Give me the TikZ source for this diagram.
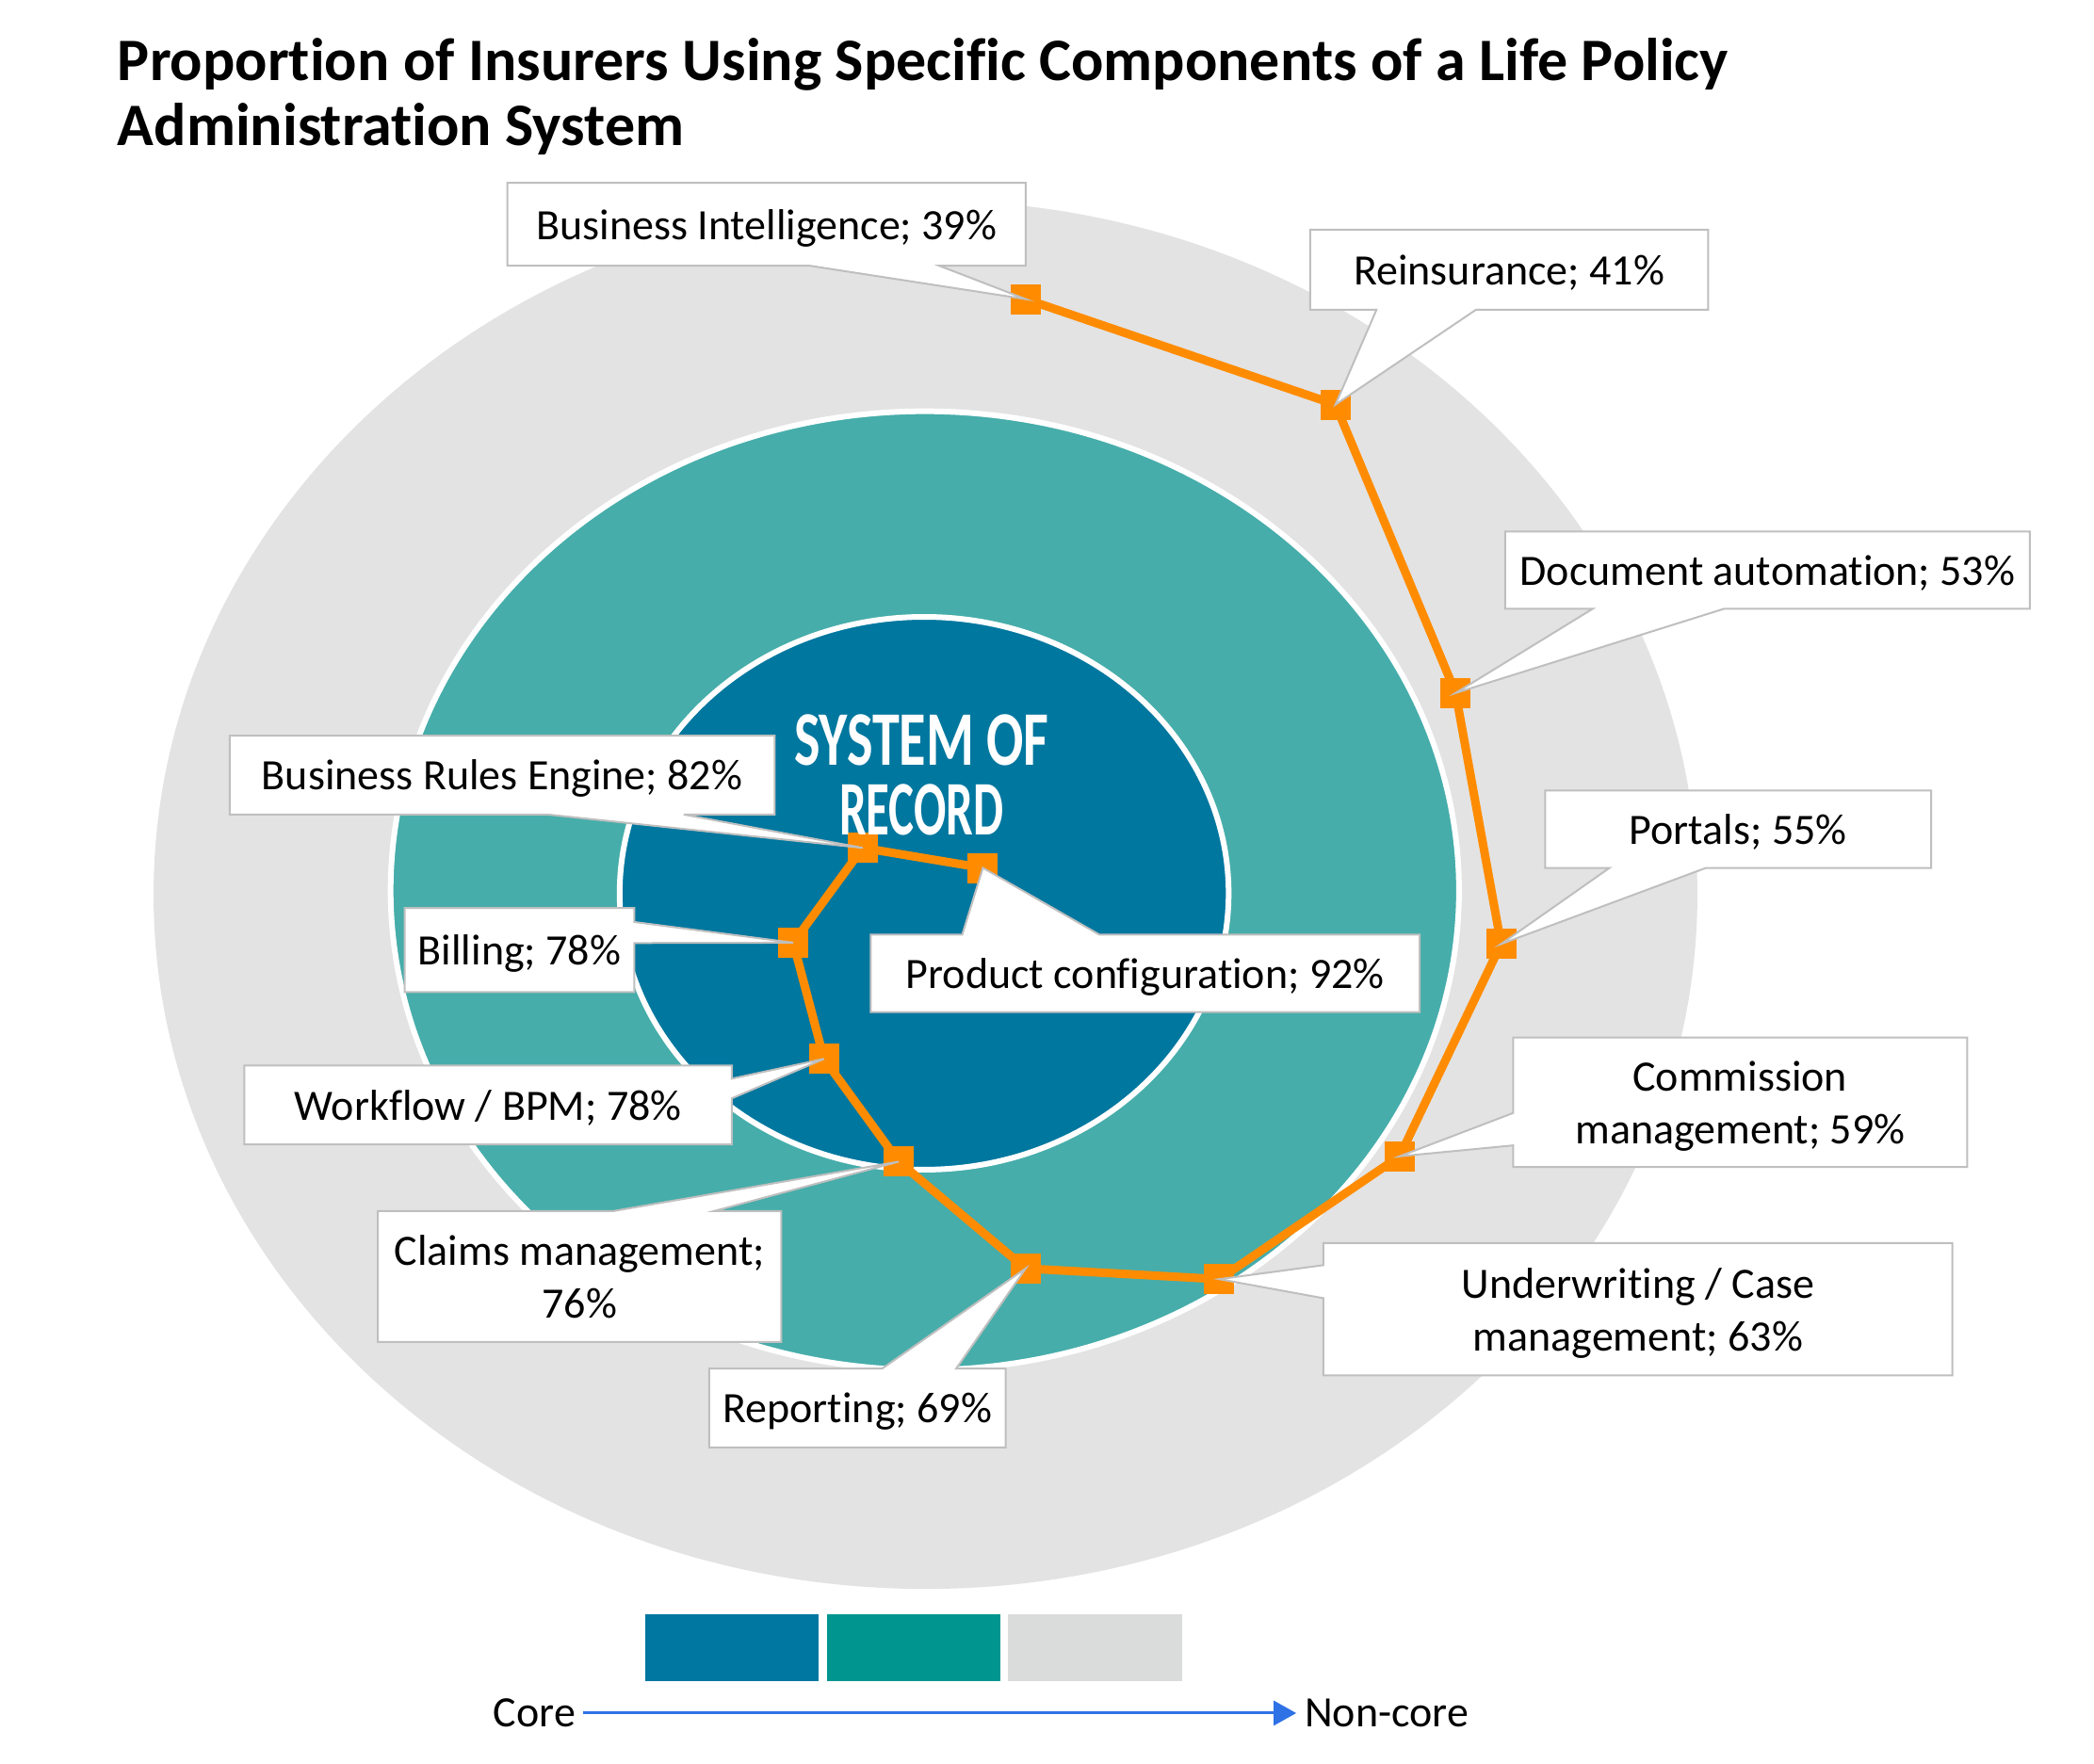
\documentclass[tikz,border=0pt]{standalone}
\usepackage{fontspec}
\usepackage{graphicx}
\setmainfont{Carlito}[Ligatures={NoCommon,NoContextual,NoRare},RawFeature={-calt}]
\usetikzlibrary{calc,arrows.meta}
\pgfdeclarelayer{L0}\pgfdeclarelayer{L1}\pgfdeclarelayer{L2}
\pgfsetlayers{L0,L1,L2,main}
\definecolor{grayell}{HTML}{E3E3E3}
\definecolor{tealell}{HTML}{46ADAA}
\definecolor{blueell}{HTML}{00779F}
\definecolor{orangeM}{HTML}{FF8C00}
\definecolor{cgray}{HTML}{BFBFBF}
\definecolor{legblue}{HTML}{0077A0}
\definecolor{legteal}{HTML}{00968F}
\definecolor{leggray}{HTML}{DADCDB}
\definecolor{arrowblue}{HTML}{2F72E6}
\def\U{1.4177pt}
\newcommand{\cobottom}[4]{\draw[callout] (#1.north west) -- (#1.north east) -- (#1.south east) -- ($(#1.south west)!#4!(#1.south east)$) -- (#2.center) -- ($(#1.south west)!#3!(#1.south east)$) -- (#1.south west) -- cycle;}
\newcommand{\cotop}[4]{\draw[callout] (#1.south west) -- (#1.south east) -- (#1.north east) -- ($(#1.north west)!#4!(#1.north east)$) -- (#2.center) -- ($(#1.north west)!#3!(#1.north east)$) -- (#1.north west) -- cycle;}
\newcommand{\coleft}[4]{\draw[callout] (#1.north west) -- (#1.north east) -- (#1.south east) -- (#1.south west) -- ($(#1.north west)!#4!(#1.south west)$) -- (#2.center) -- ($(#1.north west)!#3!(#1.south west)$) -- cycle;}
\newcommand{\coright}[4]{\draw[callout] (#1.north west) -- (#1.north east) -- ($(#1.north east)!#3!(#1.south east)$) -- (#2.center) -- ($(#1.north east)!#4!(#1.south east)$) -- (#1.south east) -- (#1.south west) -- cycle;}
\begin{document}
\begin{tikzpicture}[x=1.4177pt,y=-1.4177pt,
  lbl/.style={font=\fontsize{46}{56}\selectfont, align=center, inner sep=0pt, outer sep=0pt, text depth=0pt, text=black},
  callout/.style={fill=white, draw=cgray, line width=2pt, line join=miter},
  mk/.style={rectangle, fill=orangeM, minimum size=32pt, inner sep=0pt},
  ring/.style={draw=white, line width=6pt},
  sor/.style={anchor=north, align=center, font=\fontsize{82}{74}\selectfont\bfseries, text=white, inner sep=0pt}]
\useasboundingbox (0,0) rectangle (1568,1321);

% title
\node[anchor=base west, font=\fontsize{64}{70}\selectfont\bfseries, inner sep=0pt] (t1) at (88,60) {Proportion of Insurers Using Specific Components of a Life Policy};
\node[anchor=base west, font=\fontsize{64}{70}\selectfont\bfseries, inner sep=0pt] (t2) at (88,109) {Administration System};

% ellipses
\begin{pgfonlayer}{L0}
\fill[white] (0,0) rectangle (1568,1321);
\fill[grayell] (693,670) ellipse [x radius=578*\U, y radius=520*\U];
\fill[tealell, ring] (692.5,667) ellipse [x radius=400*\U, y radius=359*\U];
\fill[blueell, ring] (692,669) ellipse [x radius=228*\U, y radius=207*\U];
\end{pgfonlayer}

\node[sor] (sor) at (690,535) {\scalebox{0.71}[1]{SYSTEM OF}\\\scalebox{0.62}[1]{RECORD}};

% data markers and line
\begin{pgfonlayer}{L1}
\node[mk] (m1) at (768,224) {};
\node[mk] (m2) at (1000,303) {};
\node[mk] (m3) at (1090,519) {};
\node[mk] (m4) at (1124,707) {};
\node[mk] (m5) at (1048,866) {};
\node[mk] (m6) at (913,958) {};
\node[mk] (m7) at (768,950) {};
\node[mk] (m8) at (673,870) {};
\node[mk] (m9) at (617,793) {};
\node[mk] (m10) at (594,706) {};
\node[mk] (m11) at (646,635) {};
\node[mk] (m12) at (736,650) {};
\draw[orangeM, line width=9pt, line join=round] (m1.center) -- (m2.center) -- (m3.center) -- (m4.center) -- (m5.center) -- (m6.center) -- (m7.center) -- (m8.center) -- (m9.center) -- (m10.center) -- (m11.center) -- (m12.center);
\end{pgfonlayer}

% labels
\node[lbl, minimum width=388*\U, minimum height=62*\U] (bBI) at (574,168) {Business Intelligence; 39\%};
\node[lbl, minimum width=298*\U, minimum height=60*\U] (bRe) at (1130,202) {Reinsurance; 41\%};
\node[lbl, minimum width=393*\U, minimum height=58*\U] (bDA) at (1323.5,427) {Document automation; 53\%};
\node[lbl, minimum width=289*\U, minimum height=58*\U] (bPo) at (1301.5,621) {Portals; 55\%};
\node[lbl, minimum width=340*\U, minimum height=97*\U] (bCo) at (1303,825.5) {Commission\\management; 59\%};
\node[lbl, minimum width=471*\U, minimum height=99*\U] (bUW) at (1226.5,980.5) {Underwriting / Case\\management; 63\%};
\node[lbl, minimum width=222*\U, minimum height=59*\U] (bRp) at (642,1054.5) {Reporting; 69\%};
\node[lbl, minimum width=302*\U, minimum height=98*\U] (bCl) at (434,956) {Claims management;\\76\%};
\node[lbl, minimum width=365*\U, minimum height=59*\U] (bWf) at (365.5,827.5) {Workflow / BPM; 78\%};
\node[lbl, minimum width=172*\U, minimum height=63*\U] (bBi) at (389,711.5) {Billing; 78\%};
\node[lbl, minimum width=408*\U, minimum height=59*\U] (bBR) at (376,580.5) {Business Rules Engine; 82\%};
\node[lbl, minimum width=411*\U, minimum height=58*\U] (bPC) at (857.5,729) {Product configuration; 92\%};

\begin{pgfonlayer}{L2}
\cobottom{bBI}{m1}{0.5833}{0.8333}
\cobottom{bRe}{m2}{0.1667}{0.4167}
\cobottom{bDA}{m3}{0.1667}{0.4167}
\cobottom{bPo}{m4}{0.1667}{0.4167}
\coleft{bCo}{m5}{0.5833}{0.8333}
\coleft{bUW}{m6}{0.1667}{0.4167}
\cotop{bRp}{m7}{0.5833}{0.8333}
\cotop{bCl}{m8}{0.5833}{0.8333}
\coright{bWf}{m9}{0.1667}{0.4167}
\coright{bBi}{m10}{0.1667}{0.4167}
\cobottom{bBR}{m11}{0.5833}{0.8333}
\cotop{bPC}{m12}{0.1667}{0.4167}
\end{pgfonlayer}

% legend
\fill[legblue] (483,1209) rectangle (613,1259);
\fill[legteal] (619,1209) rectangle (749,1259);
\fill[leggray] (755,1209) rectangle (885,1259);
\node[lbl, anchor=east] (core) at (431,1283) {Core};
\node[lbl, anchor=west] (noncore) at (977,1283) {Non-core};
\draw[arrowblue, line width=3pt, -{Triangle[length=24pt,width=26pt]}, shorten <=8pt, shorten >=9pt] (core.east) -- (noncore.west);
\end{tikzpicture}
\end{document}
